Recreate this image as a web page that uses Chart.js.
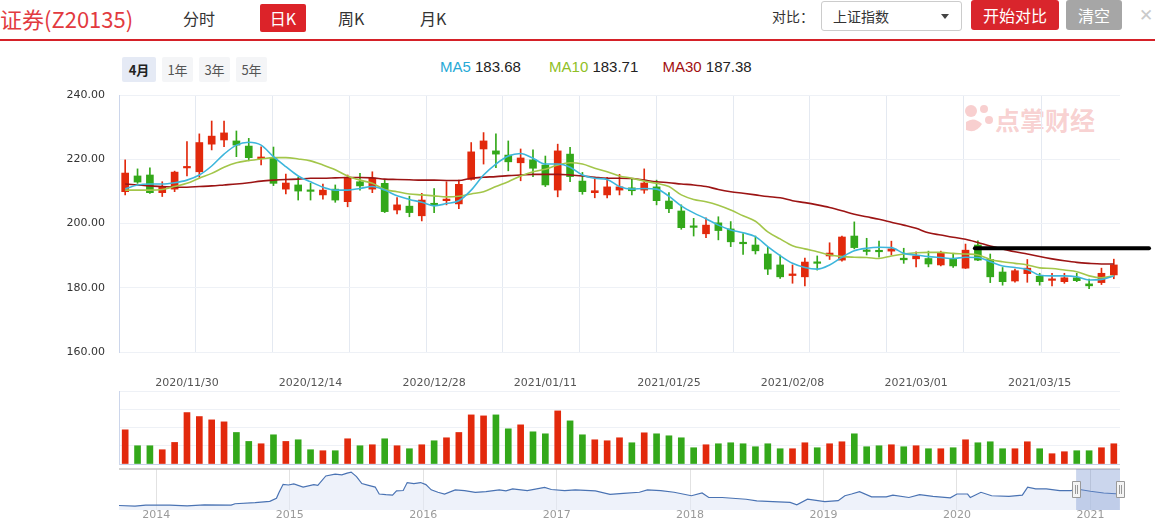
<!DOCTYPE html>
<html>
<head>
<meta charset="utf-8">
<title>证券(Z20135)</title>
<script src="https://cdn.jsdelivr.net/npm/chart.js@4.4.1/dist/chart.umd.min.js"></script>
<style>
  body { margin:0; background:#fff; font-family:"Noto Sans CJK SC", Arial, sans-serif; }
  #wrap { position:relative; width:1155px; height:531px; overflow:hidden; }
  .a { position:absolute; white-space:nowrap; }
  canvas { position:absolute; left:0; }
  #title { left:0; top:3px; font-size:22px; line-height:30px; color:#e23a3f; }
  .tab { top:4px; height:28px; line-height:28px; font-size:16px; color:#333; }
  #tab_d { left:260px; width:46px; text-align:center; background:#dc2329; color:#fff; border-radius:2px; }
  #line_red { left:0; top:39px; width:1155px; height:2px; background:#d52128; }
  #lbl_db { left:772px; top:2px; font-size:14px; line-height:28px; color:#333; }
  #sel { left:821px; top:1px; width:141px; height:30px; border:1px solid #ccc; border-radius:3px; box-sizing:border-box; }
  #sel span { position:absolute; left:11px; top:0; font-size:14px; line-height:28px; color:#333; }
  #sel i { position:absolute; left:119px; top:12px; width:0; height:0; border-left:4px solid transparent; border-right:4px solid transparent; border-top:5px solid #444; }
  .btn { top:0; height:30px; line-height:30px; font-size:16px; color:#fff; text-align:center; border-radius:3px; }
  #btn_go { left:971px; width:88px; background:#d9252c; }
  #btn_clr { left:1066px; width:56px; background:#a6a6a6; }
  #close { left:1139px; top:3px; font-size:17px; line-height:24px; color:#cacaca; font-family:"DejaVu Sans", sans-serif; }
  .rng { top:57px; height:25px; line-height:25px; font-size:13px; color:#555; background:#f4f5f7; text-align:center; border-radius:2px; }
  #r4 { left:122px; width:34px; background:#e5eaf5; color:#222; font-weight:bold; }
  #leg { left:440px; top:58px; font-family:Arial, sans-serif; font-size:15px; line-height:18px; color:#222; }
  #leg b { font-weight:normal; }
  #wm { left:995px; top:104px; font-size:25px; line-height:30px; color:rgba(232,96,96,0.30); font-weight:bold; }
  #wmi { left:962px; top:102px; }
</style>
</head>
<body>
<div id="wrap">
  <div class="a" id="title">证券(Z20135)</div>
  <div class="a tab" style="left:183px">分时</div>
  <div class="a tab" id="tab_d">日K</div>
  <div class="a tab" style="left:338px">周K</div>
  <div class="a tab" style="left:420px">月K</div>
  <div class="a" id="line_red"></div>

  <div class="a" id="lbl_db">对比：</div>
  <div class="a" id="sel"><span>上证指数</span><i></i></div>
  <div class="a btn" id="btn_go">开始对比</div>
  <div class="a btn" id="btn_clr">清空</div>
  <div class="a" id="close">✕</div>

  <div class="a rng" id="r4">4月</div>
  <div class="a rng" style="left:162px;width:31px">1年</div>
  <div class="a rng" style="left:199px;width:31px">3年</div>
  <div class="a rng" style="left:236px;width:31px">5年</div>

  <div class="a" id="leg">
    <b style="color:#27a9d6">MA5</b> 183.68
    <b style="color:#8fbf26;margin-left:24px">MA10</b> 183.71
    <b style="color:#a20f10;margin-left:20px">MA30</b> 187.38
  </div>

  <svg class="a" id="wmi" width="34" height="34" viewBox="0 0 34 34">
    <g fill="rgba(232,96,96,0.30)">
      <circle cx="9" cy="9" r="6"/>
      <circle cx="22" cy="7" r="4"/>
      <circle cx="27" cy="18" r="4"/>
      <path d="M4 20 Q12 14 20 22 Q14 32 4 28 Z"/>
    </g>
  </svg>
  <div class="a" id="wm">点掌财经</div>

  <canvas id="main" width="1155" height="280" style="top:85px"></canvas>
  <canvas id="vol" width="1155" height="98" style="top:370px"></canvas>
  <canvas id="nav" width="1155" height="65" style="top:466px"></canvas>
</div>

<script>
// 交易日
var dates = [
  '2020/11/23','2020/11/24','2020/11/25','2020/11/26','2020/11/27','2020/11/30',
  '2020/12/01','2020/12/02','2020/12/03','2020/12/04','2020/12/07','2020/12/08','2020/12/09','2020/12/10','2020/12/11',
  '2020/12/14','2020/12/15','2020/12/16','2020/12/17','2020/12/18','2020/12/21','2020/12/22','2020/12/23','2020/12/24','2020/12/25',
  '2020/12/28','2020/12/29','2020/12/30','2020/12/31',
  '2021/01/04','2021/01/05','2021/01/06','2021/01/07','2021/01/08','2021/01/11','2021/01/12','2021/01/13','2021/01/14','2021/01/15',
  '2021/01/18','2021/01/19','2021/01/20','2021/01/21','2021/01/22','2021/01/25','2021/01/26','2021/01/27','2021/01/28','2021/01/29',
  '2021/02/01','2021/02/02','2021/02/03','2021/02/04','2021/02/05','2021/02/08','2021/02/09','2021/02/10','2021/02/18','2021/02/19',
  '2021/02/22','2021/02/23','2021/02/24','2021/02/25','2021/02/26',
  '2021/03/01','2021/03/02','2021/03/03','2021/03/04','2021/03/05','2021/03/08','2021/03/09','2021/03/10','2021/03/11','2021/03/12',
  '2021/03/15','2021/03/16','2021/03/17','2021/03/18','2021/03/19','2021/03/22','2021/03/23'
];
var labelDates = ['2020/11/30','2020/12/14','2020/12/28','2021/01/11','2021/01/25','2021/02/08','2021/03/01','2021/03/15'];

var openP = [209.9,214.8,215.1,209.6,210.7,217.3,216.1,224.7,226.0,225.7, 224.1,220.2,220.6,210.7,212.0,210.2,208.9,210.7,206.8,213.0,
  210.7,212.5,204.2,205.4,202.4,206.3,207.1,206.1,213.7,223.2, 222.6,221.3,218.9,219.8,218.2,210.4,221.6,213.2,209.6,208.9,
  210.4,211.1,210.4,211.4,207.0,203.9,199.0,196.8,200.2,198.3, 194.1,193.3,190.5,187.1,183.8,183.4,187.8,189.9,188.6,196.1,
  191.7,191.4,191.4,189.2,189.0,189.1,187.1,189.1,186.1,193.3, 188.8,184.9,182.1,184.4,183.6,182.3,181.9,183.1,181.2,181.6, 184.0];
var highP = [219.8,217.0,217.3,213.0,216.3,225.5,227.9,231.9,231.9,228.8, 226.5,223.9,223.8,215.4,214.4,212.5,212.3,212.0,215.1,215.6,
  216.1,213.7,208.1,208.5,209.4,210.9,213.0,213.5,225.2,228.3, 227.9,225.7,223.2,222.9,221.0,224.7,223.7,215.9,214.4,214.4,
  215.3,214.0,217.0,213.5,209.6,205.8,201.6,201.8,202.1,200.6, 196.9,196.1,192.6,190.2,187.1,189.2,189.9,194.0,196.1,200.5,
  195.4,194.5,194.5,192.3,191.2,191.4,191.4,190.7,193.6,194.6, 190.5,186.3,185.8,188.8,184.5,184.5,184.5,184.5,182.7,186.1, 188.9];
var lowP = [208.9,212.5,209.4,208.4,209.9,214.8,214.4,222.9,223.9,220.8, 219.5,218.2,211.8,209.2,207.3,207.3,207.6,206.6,205.2,210.4,
  209.6,203.4,203.0,202.1,200.8,203.4,205.8,204.6,213.5,218.5, 217.4,216.4,213.3,214.6,211.5,208.3,213.0,209.1,208.0,208.0,
  208.9,208.9,209.4,205.8,203.4,198.2,196.1,195.6,194.9,192.8, 190.4,190.5,184.1,182.9,181.4,180.6,185.5,188.8,188.3,192.1,
  190.2,189.5,190.2,187.6,186.5,186.5,186.8,186.3,186.0,188.4, 181.6,180.8,181.7,181.7,180.8,180.6,181.4,181.9,179.7,181.0, 182.8];
var closeP = [215.7,212.9,209.6,211.3,216.0,217.7,225.2,227.2,228.2,224.4, 220.5,220.7,212.5,212.6,210.1,210.0,210.4,207.3,214.4,211.7,
  214.1,203.7,205.8,203.4,207.3,205.7,207.6,212.2,222.3,225.7, 221.6,219.2,220.4,217.2,212.0,222.6,214.6,209.9,210.2,211.4,
  211.4,210.2,212.6,207.1,204.6,198.7,198.8,199.5,197.8,194.3, 193.7,191.5,185.8,183.4,184.3,188.0,187.6,190.8,195.8,192.5,
  191.3,191.2,192.1,188.7,189.9,187.4,190.9,186.8,191.7,188.6, 183.4,181.9,185.3,186.1,181.9,182.6,183.1,182.2,180.6,184.5, 187.1];

var ma5 = [210.8,212.0,212.3,212.3,212.7,213.5,215.1,217.9,221.6,224.4, 225.3,224.4,220.8,217.7,214.8,213.0,211.3,210.4,210.4,210.9,
  211.5,210.4,208.6,207.5,206.6,205.5,206.2,207.1,210.4,215.1, 218.5,221.0,221.8,220.3,218.5,218.5,217.5,215.1,214.1,213.7,
  211.5,210.7,210.9,210.7,208.5,205.5,203.3,201.5,199.5,198.0, 197.1,195.9,192.8,190.0,187.6,186.3,185.8,187.1,189.5,191.5,
  192.3,192.6,192.5,190.7,190.2,189.7,189.4,189.1,189.5,189.4, 188.1,186.8,186.3,185.7,183.9,183.7,183.7,183.4,182.4,182.6, 183.68];
var ma10 = [210.4,210.4,210.4,210.6,211.5,212.5,214.1,215.6,217.5,218.9, 219.6,220.1,220.5,220.5,220.1,219.5,218.2,216.7,214.8,213.5,
  212.5,210.6,209.9,209.2,208.9,208.6,208.3,208.5,209.2,209.9, 211.5,213.0,214.8,216.1,216.9,218.2,218.9,218.5,217.2,216.1,
  214.8,214.1,213.2,212.5,211.5,208.9,207.5,206.8,205.7,204.2, 202.4,200.7,197.4,195.2,193.1,192.1,191.2,190.2,189.7,189.5,
  189.4,189.1,189.9,190.5,190.9,191.0,191.0,190.7,190.5,190.2, 188.8,188.1,187.6,187.1,186.2,186.0,185.5,185.0,183.7,183.1, 183.71];
var ma30 = [212.3,212.0,211.7,211.5,211.3,211.3,211.5,211.7,212.0,212.3, 212.7,213.2,213.5,213.7,213.8,214.1,214.1,214.2,214.3,214.3,
  214.2,213.8,213.7,213.6,213.5,213.5,213.4,213.4,214.1,214.4, 214.6,214.9,215.1,215.3,215.3,215.3,215.1,214.8,214.4,214.1,
  214.1,214.0,213.5,213.0,212.7,212.3,212.0,211.5,210.6,209.9, 209.4,208.9,208.4,208.0,207.1,206.5,205.8,205.0,204.0,202.9,
  202.1,201.3,200.4,199.5,198.5,197.1,196.4,195.7,195.1,194.1, 193.0,192.1,191.2,190.5,189.7,189.0,188.4,187.9,187.6,187.4, 187.38];

var volume = [103,55,55,43,65,155,143,133,127,95, 68,61,88,68,73,43,40,40,76,55, 58,76,55,46,58,70,79,95,148,145,
  148,106,118,97,91,160,130,88,73,70, 79,64,94,91,85,79,49,58,61,64, 61,52,61,46,46,64,49,61,67,91,
  52,55,58,52,55,46,46,49,73,64, 67,46,46,67,46,31,37,40,40,49, 61];

// 导航条 (年份, 收盘)
var navYears = [2013.72,2013.84,2013.92,2014.10,2014.23,2014.36,2014.56,2014.59,2014.74,2014.85,
  2014.90,2014.92,2014.95,2014.99,2015.03,2015.10,2015.18,2015.21,2015.27,2015.34,
  2015.39,2015.43,2015.46,2015.50,2015.54,2015.59,2015.64,2015.67,2015.72,2015.77,
  2015.80,2015.85,2015.88,2015.93,2015.98,2016.02,2016.06,2016.11,2016.16,2016.24,
  2016.31,2016.39,2016.47,2016.57,2016.62,2016.67,2016.78,2016.91,2016.96,2017.06,
  2017.14,2017.29,2017.40,2017.50,2017.62,2017.68,2017.78,2017.88,2018.01,2018.09,
  2018.14,2018.24,2018.42,2018.50,2018.62,2018.75,2018.80,2018.88,2019.01,2019.11,
  2019.16,2019.21,2019.27,2019.36,2019.47,2019.52,2019.64,2019.72,2019.82,2019.95,
  2020.00,2020.08,2020.10,2020.18,2020.26,2020.39,2020.49,2020.53,2020.59,2020.67,
  2020.77,2020.85,2020.92,2021.00,2021.10,2021.22];
var navValues = [52,44,56,56,48,60,56,72,84,100, 136,204,296,288,300,264,292,284,392,412,
  404,424,436,384,304,284,264,184,176,172, 220,224,316,304,316,292,232,204,184,232,
  224,204,212,232,220,244,224,260,236,224, 232,220,180,192,204,232,224,204,164,196,
  144,144,124,104,96,88,60,124,96,108, 164,184,212,152,152,172,144,176,156,140,
  184,184,144,204,164,156,172,264,244,244, 224,224,236,216,196,184];

var markLevel = 192.3, markFrom = '2021/03/08';
var rangeFrom = 2020.893, rangeTo = 2021.222;

var UP = '#e2290c', DOWN = '#33a81a';
var candleColor = closeP.map(function (c, i) { return c >= openP[i] ? UP : DOWN; });

Chart.defaults.font.family = '"DejaVu Sans", Arial, sans-serif';
Chart.defaults.font.size = 11;

// 画水平标记线
var markPlugin = {
  id: 'mark',
  afterDatasetsDraw: function (chart) {
    var ctx = chart.ctx;
    var y = chart.scales.y.getPixelForValue(markLevel);
    var x0 = chart.scales.x.getPixelForValue(dates.indexOf(markFrom)) - 3;
    var x1 = chart.chartArea.right + 29;
    ctx.save();
    ctx.strokeStyle = '#000';
    ctx.lineWidth = 4;
    ctx.lineCap = 'round';
    ctx.beginPath();
    ctx.moveTo(x0, y);
    ctx.lineTo(x1, y);
    ctx.stroke();
    ctx.restore();
  }
};

new Chart(document.getElementById('main'), {
  type: 'bar',
  data: {
    labels: dates,
    datasets: [
      { type: 'line', label: 'MA5', data: ma5, borderColor: '#3db6dc', borderWidth: 1.6, pointRadius: 0, cubicInterpolationMode: 'monotone', order: 0, xAxisID: 'x', yAxisID: 'y' },
      { type: 'line', label: 'MA10', data: ma10, borderColor: '#a3c64a', borderWidth: 1.6, pointRadius: 0, cubicInterpolationMode: 'monotone', order: 0, xAxisID: 'x', yAxisID: 'y' },
      { type: 'line', label: 'MA30', data: ma30, borderColor: '#9c1414', borderWidth: 1.6, pointRadius: 0, cubicInterpolationMode: 'monotone', order: 0, xAxisID: 'x', yAxisID: 'y' },
      { label: 'body', data: openP.map(function (o, i) { return [o, closeP[i]]; }), backgroundColor: candleColor, barThickness: 7, minBarLength: 1.5, grouped: false, order: 1, xAxisID: 'x', yAxisID: 'y' },
      { label: 'wick', data: lowP.map(function (l, i) { return [l, highP[i]]; }), backgroundColor: candleColor, barThickness: 1, grouped: false, order: 2, xAxisID: 'x', yAxisID: 'y' }
    ]
  },
  options: {
    responsive: false,
    animation: false,
    events: [],
    layout: { padding: { top: 10, right: 35, bottom: 13, left: 0 } },
    plugins: { legend: { display: false }, tooltip: { enabled: false } },
    scales: {
      x: { type: 'category', display: false, offset: true },
      xg: {
        type: 'linear', position: 'bottom', min: 0, max: 12.04,
        ticks: { display: false, stepSize: 1 },
        grid: { color: '#e4e9f1', drawTicks: false },
        border: { display: false },
        afterFit: function (s) { s.height = 0; }
      },
      y: {
        min: 160, max: 240,
        ticks: { stepSize: 20, padding: 0, color: '#333', callback: function (v) { return v.toFixed(2); } },
        grid: { color: '#eef1f6', drawTicks: true, tickLength: 14, tickColor: 'rgba(0,0,0,0)' },
        border: { color: '#ccd6eb' },
        afterFit: function (s) { s.width = 119; }
      }
    }
  },
  plugins: [markPlugin]
});

new Chart(document.getElementById('vol'), {
  type: 'bar',
  data: {
    labels: dates,
    datasets: [{ data: volume, backgroundColor: candleColor, barThickness: 6 }]
  },
  options: {
    responsive: false,
    animation: false,
    events: [],
    layout: { padding: { top: 0, right: 35, bottom: 4, left: 0 } },
    plugins: { legend: { display: false }, tooltip: { enabled: false } },
    scales: {
      x: {
        type: 'category', position: 'top', offset: true,
        grid: { display: false, drawTicks: false },
        border: { display: false },
        ticks: {
          autoSkip: false, maxRotation: 0, padding: 1, color: '#555',
          callback: function (v, i) { return labelDates.indexOf(dates[i]) >= 0 ? dates[i] : ''; }
        },
        afterFit: function (s) { s.height = 21; }
      },
      y: {
        min: 0, max: 220,
        ticks: { display: false, stepSize: 55 },
        grid: { drawTicks: false, color: function (c) { return c.tick && c.tick.value === 0 ? '#c6d0e9' : '#eef1f6'; } },
        border: { color: '#ccd6eb' },
        afterFit: function (s) { s.width = 119; }
      }
    }
  }
});

// 导航条选区
var rangePlugin = {
  id: 'range',
  beforeDatasetsDraw: function (chart) {
    var ctx = chart.ctx, a = chart.chartArea;
    ctx.save();
    ctx.strokeStyle = '#c4c4c4';
    ctx.lineWidth = 1.5;
    ctx.beginPath();
    ctx.moveTo(a.left, a.top);
    ctx.lineTo(a.right, a.top);
    ctx.stroke();
    ctx.restore();
  },
  afterDatasetsDraw: function (chart) {
    var ctx = chart.ctx, a = chart.chartArea, xs = chart.scales.x;
    var x0 = xs.getPixelForValue(rangeFrom), x1 = xs.getPixelForValue(rangeTo);
    ctx.save();
    ctx.fillStyle = 'rgba(112,140,204,0.36)';
    ctx.fillRect(x0, a.top, x1 - x0, a.bottom - a.top);
    [x0, x1].forEach(function (x) {
      ctx.fillStyle = '#f4f4f4';
      ctx.strokeStyle = '#999';
      ctx.lineWidth = 1;
      ctx.beginPath();
      ctx.rect(Math.round(x) - 3.5, a.top + 12.5, 8, 16);
      ctx.fill();
      ctx.stroke();
      ctx.beginPath();
      ctx.moveTo(Math.round(x) - 0.5, a.top + 16);
      ctx.lineTo(Math.round(x) - 0.5, a.top + 25);
      ctx.moveTo(Math.round(x) + 1.5, a.top + 16);
      ctx.lineTo(Math.round(x) + 1.5, a.top + 25);
      ctx.stroke();
    });
    ctx.restore();
  }
};

new Chart(document.getElementById('nav'), {
  type: 'line',
  data: {
    datasets: [{
      data: navYears.map(function (x, i) { return { x: x, y: navValues[i] }; }),
      borderColor: '#4a73b3', borderWidth: 1.2, pointRadius: 0, tension: 0,
      fill: 'origin', backgroundColor: 'rgba(226,234,246,0.6)'
    }]
  },
  options: {
    responsive: false,
    animation: false,
    events: [],
    layout: { padding: { top: 3, right: 35, bottom: 0, left: 119 } },
    plugins: { legend: { display: false }, tooltip: { enabled: false } },
    scales: {
      x: {
        type: 'linear', min: 2013.72, max: 2021.222,
        ticks: {
          stepSize: 1, includeBounds: false, autoSkip: false, maxRotation: 0, padding: -1, color: '#9a9a9a',
          callback: function (v) { return Number.isInteger(v) ? String(v) : ''; }
        },
        grid: { drawTicks: false, color: '#e2e2e2' },
        border: { display: false },
        afterFit: function (s) { s.height = 21; }
      },
      y: { display: false, min: 0, max: 472 }
    }
  },
  plugins: [rangePlugin]
});
</script>
</body>
</html>
